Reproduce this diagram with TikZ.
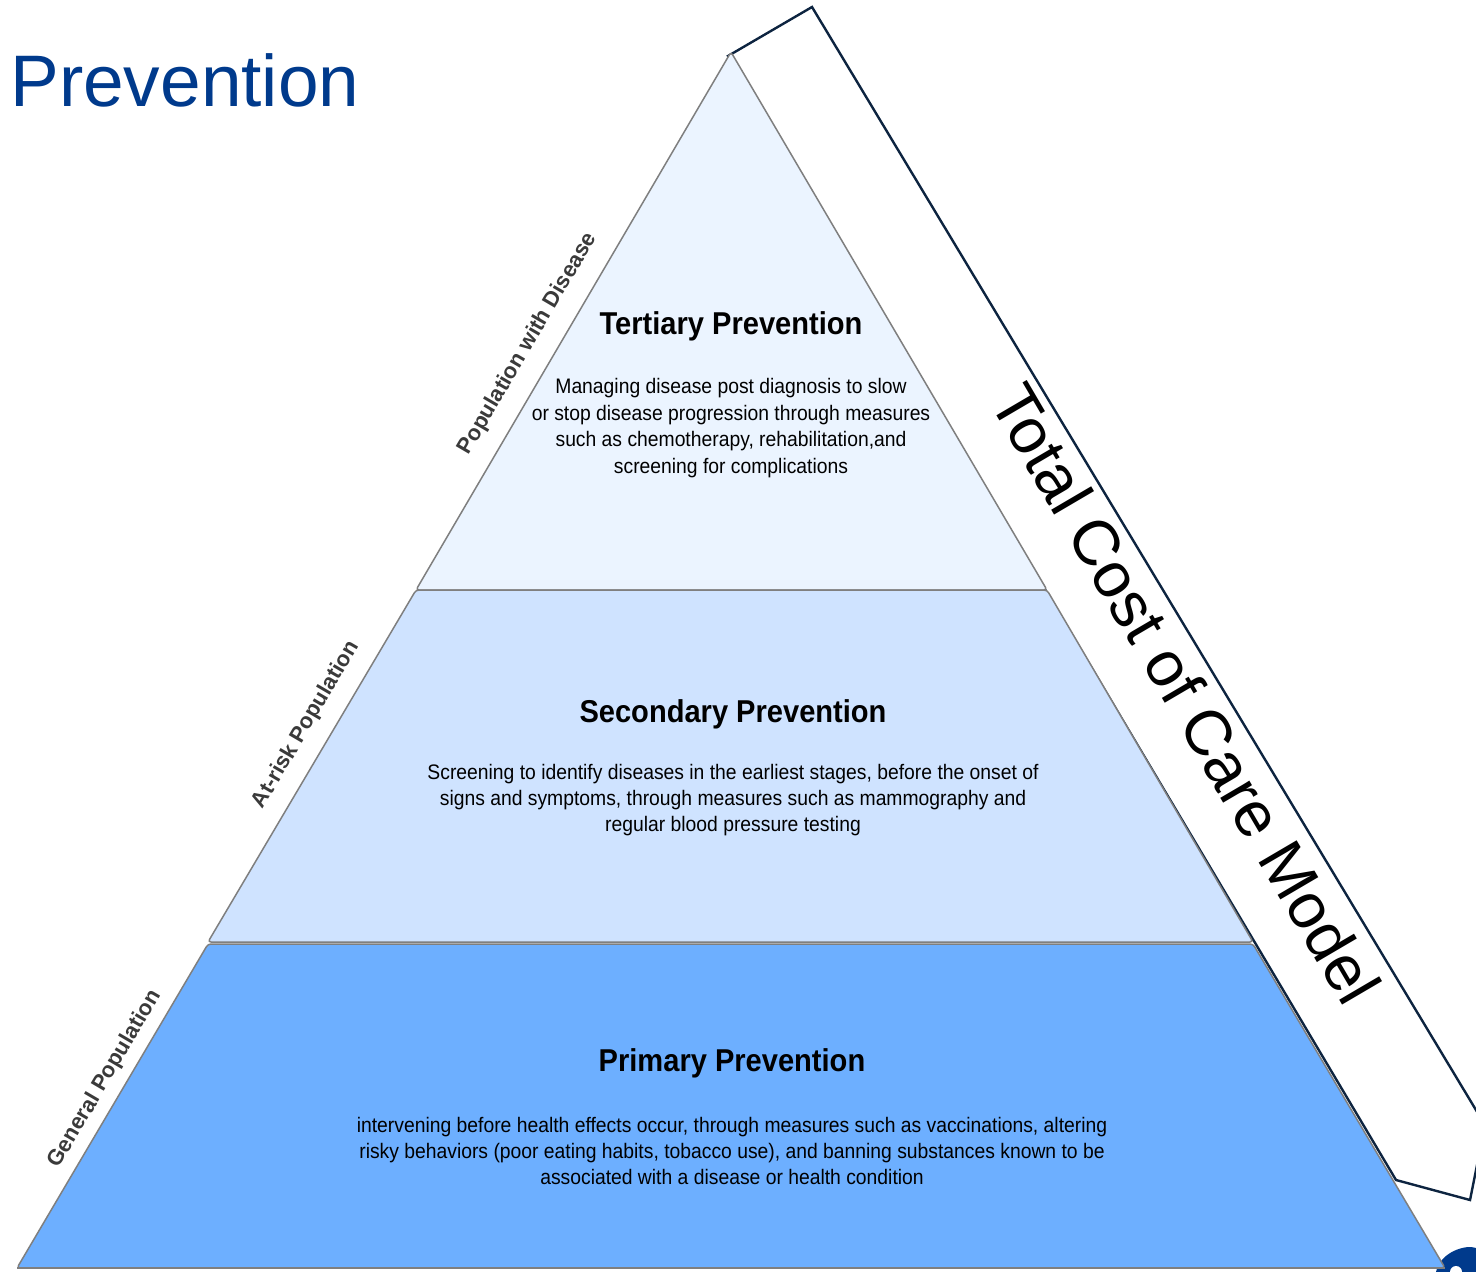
\documentclass[tikz,border=0pt]{standalone}
\usepackage{fontspec}
\setmainfont{Liberation Sans}
\newfontfamily\narrowfont[FakeStretch=0.92]{Liberation Sans}
\definecolor{titleblue}{HTML}{003A8C}
\definecolor{costnavy}{HTML}{0D2440}
\definecolor{tierthree}{HTML}{EBF4FF}
\definecolor{tiertwo}{HTML}{CFE3FF}
\definecolor{tierone}{HTML}{6DAFFF}
\definecolor{edgegray}{HTML}{7F7F7F}
\definecolor{labelgray}{HTML}{3A3A3A}
\begin{document}
\begin{tikzpicture}[
        x=0.5pt, y=-0.5pt,
        tier/.style={draw=edgegray, line width=0.75pt, rounded corners=1.5pt},
        tiertitle/.style={anchor=base, inner sep=0pt, font=\narrowfont\bfseries\fontsize{15.8}{19}\selectfont},
        tiertext/.style={align=center, inner sep=0pt, font=\narrowfont\fontsize{10.5}{13.2}\selectfont},
        sidelabel/.style={rotate=59.6, inner sep=0pt, text=labelgray, font=\bfseries\fontsize{11}{13}\selectfont}
    ]
        \useasboundingbox (0,0) rectangle (1476,1272);
        \clip (0,0) rectangle (1476,1272);

        % Pyramid corners
        \coordinate (apex) at (731,52);
        \coordinate (t3l) at (416,590);
        \coordinate (t3r) at (1047,590);
        \coordinate (t2l) at (208,942);
        \coordinate (t2r) at (1253,942);
        \coordinate (t1l) at (17,1268);
        \coordinate (t1r) at (1445,1268);

        % Cost band behind the pyramid
        \coordinate (c1) at (728,56);
        \coordinate (c2) at (812,7);
        \coordinate (c3) at (1485,1125);
        \coordinate (c4) at (1470,1200);
        \coordinate (c5) at (1396,1180);
        \draw[costnavy, line width=1.2pt, line join=miter, fill=white]
            (c1) -- (c2) -- (c3) -- (c4) -- (c5) -- cycle;

        % Logo corner
        \fill[titleblue] (1436,1272) .. controls (1440,1252) and (1466,1244) .. (1476,1248)
            -- (1476,1272) -- cycle;
        \fill[white] (1456,1272) circle (6);

        % Tiers
        \draw[tier, fill=tierthree] (apex) -- (t3r) -- (t3l) -- cycle;
        \draw[tier, fill=tiertwo] (t3l) -- (t3r) -- (t2r) -- (t2l) -- cycle;
        \draw[tier, fill=tierone] ([yshift=-1]t2l) -- ([yshift=-1]t2r) -- (t1r) -- (t1l) -- cycle;
        \draw[edgegray, line width=1.2pt] (t1l) -- (t1r);

        % Title
        \node[anchor=base west, inner sep=0pt, text=titleblue, font=\fontsize{36.5}{40}\selectfont]
            (title) at (10,107) {Prevention};

        % Tertiary
        \node[tiertitle] (terT) at (731,335) {Tertiary Prevention};
        \node[tiertext] (terB) at (731,428) {Managing disease post diagnosis to slow\\
            or stop disease progression through measures\\
            such as chemotherapy, rehabilitation,and\\
            screening for complications};

        % Secondary
        \node[tiertitle] (secT) at (733,722) {Secondary Prevention};
        \node[tiertext] (secB) at (733,800) {Screening to identify diseases in the earliest stages, before the onset of\\
            signs and symptoms, through measures such as mammography and\\
            regular blood pressure testing};

        % Primary
        \node[tiertitle] (priT) at (732,1071) {Primary Prevention};
        \node[tiertext] (priB) at (732,1151) {intervening before health effects occur, through measures such as vaccinations, altering\\
            risky behaviors (poor eating habits, tobacco use), and banning substances known to be\\
            associated with a disease or health condition};

        % Population labels along the left side
        \foreach \txt/\x/\y [count=\i] in {Population with Disease/528/344,
                At-risk Population/306/725, General Population/105/1079}
            \node[sidelabel] (pop\i) at (\x,\y) {\txt};

        % Cost band label
        \node[rotate=-59.6, inner sep=0pt, font=\fontsize{32}{36}\selectfont]
            (cost) at (1186,694) {Total Cost of Care Model};

    \end{tikzpicture}
\end{document}
